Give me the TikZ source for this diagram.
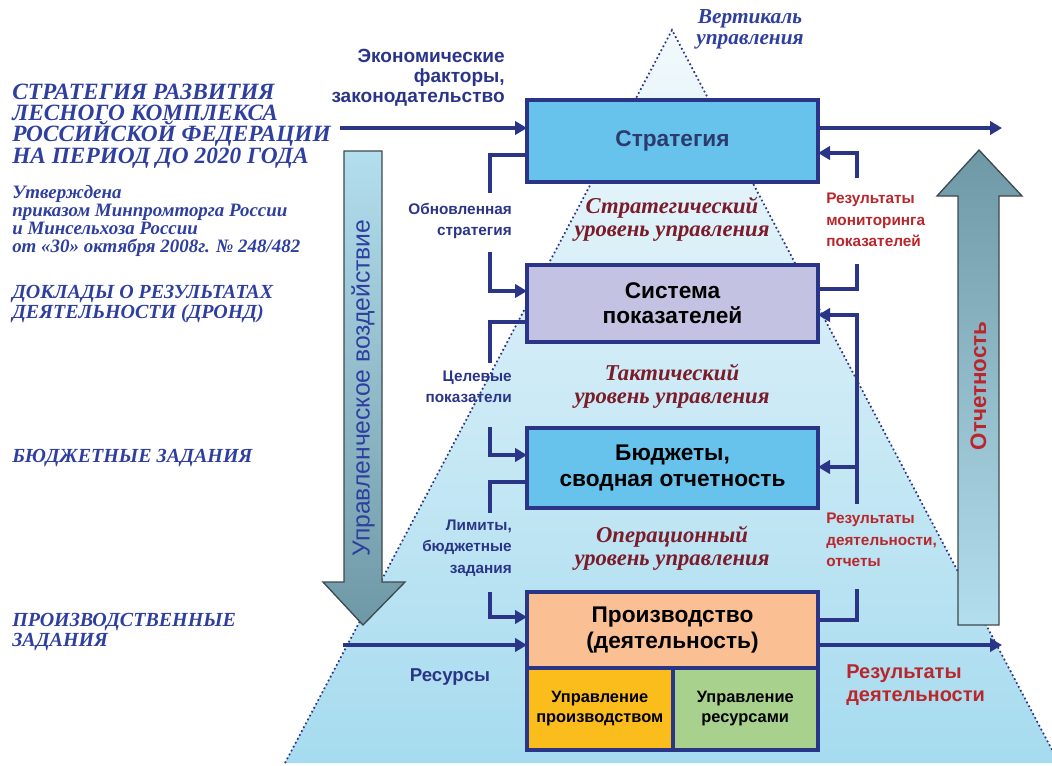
\documentclass[tikz,border=0pt]{standalone}
\usepackage{fontspec}
\setmainfont{Liberation Serif}
\setsansfont{Liberation Sans}
\usetikzlibrary{arrows.meta}
\definecolor{navy}{HTML}{2B3588}
\definecolor{titleblue}{HTML}{2F3F9F}
\definecolor{lvlred}{HTML}{7B1C2B}
\definecolor{lblred}{HTML}{B9262C}
\definecolor{boxblue}{HTML}{67C3EC}
\definecolor{lavender}{HTML}{C4C2E2}
\definecolor{peach}{HTML}{FBBF94}
\definecolor{yellowbox}{HTML}{FBBD1B}
\definecolor{greenbox}{HTML}{A8D18D}
\definecolor{pyrtop}{HTML}{F2F9FC}
\definecolor{pyrbot}{HTML}{A6DBEF}
\definecolor{arrlight}{HTML}{B3DEED}
\definecolor{arrdark}{HTML}{6F98A6}
\definecolor{arrborder}{HTML}{3D4A4F}
\definecolor{boxtext}{HTML}{2D3A6E}
\tikzset{
  mainbox/.style={draw=navy, line width=3pt, minimum width=291*0.75pt, inner sep=0pt, outer sep=0pt,
     font=\sffamily\bfseries\fontsize{17}{19}\selectfont, align=center},
  subbox/.style={draw=navy, line width=3pt, minimum width=145.5*0.75pt, minimum height=82*0.75pt, inner sep=0pt, outer sep=0pt,
     font=\sffamily\bfseries\fontsize{12.3}{15}\selectfont, align=center},
  conn/.style={draw=navy, line width=3pt},
  arr/.style={conn, -{Triangle[length=9pt,width=10pt]}},
  lvl/.style={font=\rmfamily\bfseries\itshape\fontsize{17}{17.5}\selectfont, text=lvlred, align=center, inner sep=0pt},
  clabel/.style={font=\sffamily\bfseries\fontsize{11.5}{16}\selectfont, text=navy, inner sep=0pt},
  rlabel/.style={font=\sffamily\bfseries\fontsize{11.5}{16}\selectfont, text=lblred, inner sep=0pt, align=left},
  ttl/.style={font=\rmfamily\bfseries\itshape, text=titleblue, inner sep=0pt, align=left},
  bigarrow/.style={draw=arrborder, line width=1pt},
}
\begin{document}
\begin{tikzpicture}[x=0.75pt,y=-0.75pt]
\useasboundingbox (0,0) rectangle (1052,765);
\clip (0,0) rectangle (1052,765);
\fill[white] (0,0) rectangle (1052,765);
% pyramid
\shade[top color=pyrtop, bottom color=pyrbot] (672,30) -- (285,763) -- (1059,763) -- cycle;
\draw[navy, dotted, line width=1.3pt] (285,763) -- (672,30) -- (1059,763);

% boxes
\node[mainbox, fill=boxblue, text=boxtext, minimum height=82*0.75pt] (strat) at (672.5,141) {Стратегия};
\node[mainbox, fill=lavender, text=black, minimum height=77*0.75pt] (sys) at (672.5,303.5) {Система\\показателей};
\node[mainbox, fill=boxblue, text=black, minimum height=80*0.75pt] (bud) at (672.5,468) {Бюджеты,\\сводная отчетность};
\node[mainbox, fill=peach, text=black, minimum height=76*0.75pt] (prod) at (672.5,630) {Производство\\(деятельность)};
\node[subbox, fill=yellowbox, anchor=north west] (mprod) at (527,668) {Управление\\производством};
\node[subbox, fill=greenbox, anchor=north east] (mres) at (818,668) {Управление\\ресурсами};

% big arrows
\shade[bigarrow, top color=arrlight, bottom color=arrdark]
  (344,151) -- (382,151) -- (382,582) -- (405,582) -- (363,625) -- (323,582) -- (344,582) -- cycle;
\shade[bigarrow, top color=arrdark, bottom color=arrlight]
  (958,625) -- (999,625) -- (999,196) -- (1022,196) -- (979,150) -- (937,196) -- (958,196) -- cycle;
\node[rotate=90, font=\sffamily\fontsize{18.5}{20}\selectfont, text=titleblue] (upr) at (363,388) {Управленческое воздействие};
\node[rotate=90, font=\sffamily\bfseries\fontsize{16.8}{18}\selectfont, text=lblred] (otch) at (978.5,386) {Отчетность};

% coordinates
\coordinate (inL) at (340,128);
\coordinate (outR) at (1002,128);
\coordinate (resL) at (343,645);
\coordinate (resR) at (1002,645);

% main flow arrows
\draw[arr] (inL) -- (inL -| strat.west);
\draw[arr] (strat.east |- outR) -- (outR);
\draw[arr] (resL) -- (resL -| prod.west);
\draw[arr] (prod.east |- resR) -- (resR);

% left connectors
\coordinate (l1a) at (490,193); \coordinate (l1b) at (490,252);
\coordinate (l2a) at (490,363); \coordinate (l2b) at (490,427);
\coordinate (l3a) at (490,513); \coordinate (l3b) at (490,592);
\draw[conn] (strat.west |- 0,155) -| (l1a);
\draw[arr] (l1b) |- (sys.west |- 0,291);
\draw[conn] (sys.west |- 0,322) -| (l2a);
\draw[arr] (l2b) |- (bud.west |- 0,455);
\draw[conn] (bud.west |- 0,482) -| (l3a);
\draw[arr] (l3b) |- (prod.west |- 0,617);

% right connectors
\coordinate (r1a) at (857,178); \coordinate (r1b) at (857,264);
\coordinate (r2a) at (857,504); \coordinate (r2m) at (857,467);
\coordinate (r3b) at (857,589);
\draw[arr] (r1a) |- (strat.east |- 0,153);
\draw[conn] (sys.east |- 0,289) -| (r1b);
\draw[arr] (r2a) |- (sys.east |- 0,315);
\draw[arr] (r2m) -- (bud.east |- r2m);
\draw[conn] (prod.east |- 0,620) -| (r3b);

% level labels
\node[lvl] (lv1) at (672,219) {Стратегический\\уровень управления};
\node[lvl] (lv2) at (672,386) {Тактический\\уровень управления};
\node[lvl] (lv3) at (672,548) {Операционный\\уровень управления};

% connector labels
\node[clabel, align=right, anchor=east] (lb1) at (512,221) {Обновленная\\стратегия};
\node[clabel, align=right, anchor=east] (lb2) at (512,387) {Целевые\\показатели};
\node[clabel, align=right, anchor=east] (lb3) at (512,548) {Лимиты,\\бюджетные\\задания};
\node[rlabel, anchor=west] (rb1) at (826,220) {Результаты\\мониторинга\\показателей};
\node[rlabel, anchor=west] (rb2) at (826,540) {Результаты\\деятельности,\\отчеты};
\node[clabel, font=\sffamily\bfseries\fontsize{14}{16}\selectfont] (resl) at (450,677) {Ресурсы};
\node[rlabel, anchor=west, font=\sffamily\bfseries\fontsize{15}{17}\selectfont] (resr) at (846,685) {Результаты\\деятельности};
\node[clabel, align=right, anchor=east, font=\sffamily\bfseries\fontsize{14.3}{15}\selectfont] (eco) at (505,78) {Экономические\\факторы,\\законодательство};
\node[ttl, align=center, font=\rmfamily\bfseries\itshape\fontsize{16}{16}\selectfont] (vert) at (750,29) {Вертикаль\\управления};

% left titles
\node[ttl, anchor=west, font=\rmfamily\bfseries\itshape\fontsize{17.5}{16}\selectfont] (t1) at (12,126)
  {СТРАТЕГИЯ РАЗВИТИЯ\\ЛЕСНОГО КОМПЛЕКСА\\РОССИЙСКОЙ ФЕДЕРАЦИИ\\НА ПЕРИОД ДО 2020 ГОДА};
\node[ttl, anchor=west, font=\rmfamily\bfseries\itshape\fontsize{14.2}{13.3}\selectfont] (t2) at (12,221)
  {Утверждена\\приказом Минпромторга России\\и Минсельхоза России\\от «30» октября 2008г. № 248/482};
\node[ttl, anchor=west, font=\rmfamily\bfseries\itshape\fontsize{15}{15}\selectfont] (t3) at (12,304)
  {ДОКЛАДЫ О РЕЗУЛЬТАТАХ\\ДЕЯТЕЛЬНОСТИ (ДРОНД)};
\node[ttl, anchor=west, font=\rmfamily\bfseries\itshape\fontsize{15}{15}\selectfont] (t4) at (12,458)
  {БЮДЖЕТНЫЕ ЗАДАНИЯ};
\node[ttl, anchor=west, font=\rmfamily\bfseries\itshape\fontsize{15}{15}\selectfont] (t5) at (12,632)
  {ПРОИЗВОДСТВЕННЫЕ\\ЗАДАНИЯ};
\end{tikzpicture}
\end{document}
